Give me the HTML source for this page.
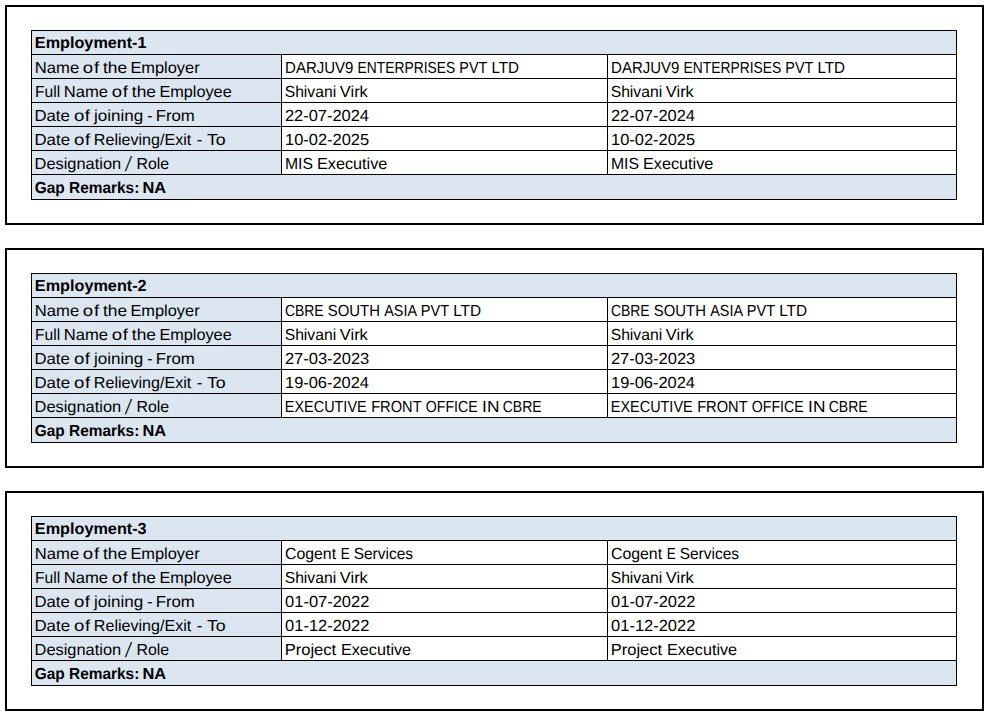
<!DOCTYPE html>
<html><head><meta charset="utf-8"><title>Employment</title>
<style>
html,body{margin:0;padding:0;background:#fff;}
body{width:990px;height:717px;position:relative;overflow:hidden;font-family:"Liberation Sans",sans-serif;color:#000;}
.box{position:absolute;left:5px;width:975px;height:216px;border:2px solid #000;background:#fff;}
.tbl{position:absolute;left:31px;width:924px;height:168px;border:1px solid #000;background:#fff;}
.fill{position:absolute;background:#dce6f1;}
.h{position:absolute;left:31px;width:926px;height:1px;background:#000;}
.v{position:absolute;width:1px;height:121px;background:#000;}
.r{position:absolute;left:0;height:20px;}
.r i{position:absolute;left:0;top:0;font-style:normal;white-space:nowrap;font-size:16px;line-height:20px;height:20px;transform-origin:0 50%;text-rendering:geometricPrecision;}
.b i{font-weight:bold;}
</style></head><body>
<div class="box" style="top:5px"></div>
<div class="tbl" style="top:30px"></div>
<div class="fill" style="left:32px;top:31px;width:924px;height:23px"></div>
<div class="fill" style="left:32px;top:54px;width:249px;height:121px"></div>
<div class="fill" style="left:32px;top:175px;width:924px;height:24px"></div>
<div class="h" style="top:54px"></div>
<div class="h" style="top:78px"></div>
<div class="h" style="top:102px"></div>
<div class="h" style="top:126px"></div>
<div class="h" style="top:150px"></div>
<div class="h" style="top:174px"></div>
<div class="v" style="left:281px;top:54px"></div>
<div class="v" style="left:607px;top:54px"></div>
<div class="r b" style="top:34.31px"><i style="transform:translateX(34.86px) scaleX(1.0127)">Employment-1</i> </div>
<div class="r" style="top:58.86px"><i style="transform:translateX(34.87px) scaleX(1.0388)">Name</i> <i style="transform:translateX(82.78px) scaleX(1.1600);letter-spacing:0.698px">of</i> <i style="transform:translateX(103.03px) scaleX(1.0824)">the</i> <i style="transform:translateX(130.39px) scaleX(1.0247)">Employer</i> </div>
<div class="r" style="top:58.86px"><i style="transform:translateX(285.11px) scaleX(0.9371)">DARJUV9</i> <i style="transform:translateX(357.61px) scaleX(0.8641)">ENTERPRISES</i> <i style="transform:translateX(459.37px) scaleX(0.8953)">PVT</i> <i style="transform:translateX(491.40px) scaleX(0.9488)">LTD</i> </div>
<div class="r" style="top:58.86px"><i style="transform:translateX(611.11px) scaleX(0.9371)">DARJUV9</i> <i style="transform:translateX(683.61px) scaleX(0.8641)">ENTERPRISES</i> <i style="transform:translateX(785.37px) scaleX(0.8953)">PVT</i> <i style="transform:translateX(817.40px) scaleX(0.9488)">LTD</i> </div>
<div class="r" style="top:82.86px"><i style="transform:translateX(34.96px) scaleX(0.9754)">Full</i> <i style="transform:translateX(63.68px) scaleX(1.0363)">Name</i> <i style="transform:translateX(111.68px) scaleX(1.1600);letter-spacing:0.612px">of</i> <i style="transform:translateX(131.83px) scaleX(1.0824)">the</i> <i style="transform:translateX(159.40px) scaleX(1.0159)">Employee</i> </div>
<div class="r" style="top:82.86px"><i style="transform:translateX(284.66px) scaleX(0.9817)">Shivani</i> <i style="transform:translateX(339.87px) scaleX(1.0249)">Virk</i> </div>
<div class="r" style="top:82.86px"><i style="transform:translateX(610.66px) scaleX(0.9817)">Shivani</i> <i style="transform:translateX(665.87px) scaleX(1.0249)">Virk</i> </div>
<div class="r" style="top:106.86px"><i style="transform:translateX(34.46px) scaleX(1.0457)">Date</i> <i style="transform:translateX(74.08px) scaleX(1.1600);letter-spacing:0.353px">of</i> <i style="transform:translateX(93.90px) scaleX(1.0652)">joining</i> <i style="transform:translateX(147.01px) scaleX(1.0581)">-</i> <i style="transform:translateX(155.66px) scaleX(1.0495)">From</i> </div>
<div class="r" style="top:106.86px"><i style="transform:translateX(284.93px) scaleX(1.0270)">22-07-2024</i> </div>
<div class="r" style="top:106.86px"><i style="transform:translateX(610.93px) scaleX(1.0270)">22-07-2024</i> </div>
<div class="r" style="top:130.86px"><i style="transform:translateX(34.45px) scaleX(1.0520)">Date</i> <i style="transform:translateX(74.08px) scaleX(1.1600);letter-spacing:0.440px">of</i> <i style="transform:translateX(93.82px) scaleX(1.0052)">Relieving/Exit</i> <i style="transform:translateX(196.81px) scaleX(1.0581)">-</i> <i style="transform:translateX(206.88px) scaleX(1.1087)">To</i> </div>
<div class="r" style="top:130.86px"><i style="transform:translateX(285.02px) scaleX(1.0266)">10-02-2025</i> </div>
<div class="r" style="top:130.86px"><i style="transform:translateX(611.02px) scaleX(1.0266)">10-02-2025</i> </div>
<div class="r" style="top:154.86px"><i style="transform:translateX(34.59px) scaleX(1.0240)">Designation</i> <i style="transform-origin:0 15.54px;transform:translate(124.30px,2.20px) skewX(-11deg) scaleY(1.3)">/</i> <i style="transform:translateX(136.44px) scaleX(0.9919)">Role</i> </div>
<div class="r" style="top:154.86px"><i style="transform:translateX(284.94px) scaleX(0.9858)">MIS</i> <i style="transform:translateX(317.01px) scaleX(1.0141)">Executive</i> </div>
<div class="r" style="top:154.86px"><i style="transform:translateX(610.94px) scaleX(0.9858)">MIS</i> <i style="transform:translateX(643.01px) scaleX(1.0141)">Executive</i> </div>
<div class="r b" style="top:179.46px"><i style="transform:translateX(34.70px) scaleX(0.9640)">Gap</i> <i style="transform:translateX(69.02px) scaleX(0.9637)">Remarks:</i> <i style="transform:translateX(142.45px) scaleX(1.0233)">NA</i> </div>
<div class="box" style="top:248px"></div>
<div class="tbl" style="top:273px"></div>
<div class="fill" style="left:32px;top:274px;width:924px;height:23px"></div>
<div class="fill" style="left:32px;top:297px;width:249px;height:121px"></div>
<div class="fill" style="left:32px;top:418px;width:924px;height:24px"></div>
<div class="h" style="top:297px"></div>
<div class="h" style="top:321px"></div>
<div class="h" style="top:345px"></div>
<div class="h" style="top:369px"></div>
<div class="h" style="top:393px"></div>
<div class="h" style="top:417px"></div>
<div class="v" style="left:281px;top:297px"></div>
<div class="v" style="left:607px;top:297px"></div>
<div class="r b" style="top:277.31px"><i style="transform:translateX(34.86px) scaleX(1.0138)">Employment-2</i> </div>
<div class="r" style="top:301.86px"><i style="transform:translateX(34.87px) scaleX(1.0388)">Name</i> <i style="transform:translateX(82.78px) scaleX(1.1600);letter-spacing:0.698px">of</i> <i style="transform:translateX(103.03px) scaleX(1.0824)">the</i> <i style="transform:translateX(130.39px) scaleX(1.0247)">Employer</i> </div>
<div class="r" style="top:301.86px"><i style="transform:translateX(284.94px) scaleX(0.8700)">CBRE</i> <i style="transform:translateX(327.80px) scaleX(0.9318)">SOUTH</i> <i style="transform:translateX(384.20px) scaleX(0.8990)">ASIA</i> <i style="transform:translateX(420.85px) scaleX(0.9089)">PVT</i> <i style="transform:translateX(453.18px) scaleX(0.9600)">LTD</i> </div>
<div class="r" style="top:301.86px"><i style="transform:translateX(610.94px) scaleX(0.8700)">CBRE</i> <i style="transform:translateX(653.80px) scaleX(0.9318)">SOUTH</i> <i style="transform:translateX(710.20px) scaleX(0.8990)">ASIA</i> <i style="transform:translateX(746.85px) scaleX(0.9089)">PVT</i> <i style="transform:translateX(779.18px) scaleX(0.9600)">LTD</i> </div>
<div class="r" style="top:325.86px"><i style="transform:translateX(34.96px) scaleX(0.9754)">Full</i> <i style="transform:translateX(63.68px) scaleX(1.0363)">Name</i> <i style="transform:translateX(111.68px) scaleX(1.1600);letter-spacing:0.612px">of</i> <i style="transform:translateX(131.83px) scaleX(1.0824)">the</i> <i style="transform:translateX(159.40px) scaleX(1.0159)">Employee</i> </div>
<div class="r" style="top:325.86px"><i style="transform:translateX(284.66px) scaleX(0.9817)">Shivani</i> <i style="transform:translateX(339.87px) scaleX(1.0249)">Virk</i> </div>
<div class="r" style="top:325.86px"><i style="transform:translateX(610.66px) scaleX(0.9817)">Shivani</i> <i style="transform:translateX(665.87px) scaleX(1.0249)">Virk</i> </div>
<div class="r" style="top:349.86px"><i style="transform:translateX(34.46px) scaleX(1.0457)">Date</i> <i style="transform:translateX(74.08px) scaleX(1.1600);letter-spacing:0.353px">of</i> <i style="transform:translateX(93.90px) scaleX(1.0652)">joining</i> <i style="transform:translateX(147.01px) scaleX(1.0581)">-</i> <i style="transform:translateX(155.66px) scaleX(1.0495)">From</i> </div>
<div class="r" style="top:349.86px"><i style="transform:translateX(284.93px) scaleX(1.0302)">27-03-2023</i> </div>
<div class="r" style="top:349.86px"><i style="transform:translateX(610.93px) scaleX(1.0302)">27-03-2023</i> </div>
<div class="r" style="top:373.86px"><i style="transform:translateX(34.45px) scaleX(1.0520)">Date</i> <i style="transform:translateX(74.08px) scaleX(1.1600);letter-spacing:0.440px">of</i> <i style="transform:translateX(93.82px) scaleX(1.0052)">Relieving/Exit</i> <i style="transform:translateX(196.81px) scaleX(1.0581)">-</i> <i style="transform:translateX(206.88px) scaleX(1.1087)">To</i> </div>
<div class="r" style="top:373.86px"><i style="transform:translateX(285.02px) scaleX(1.0259)">19-06-2024</i> </div>
<div class="r" style="top:373.86px"><i style="transform:translateX(611.02px) scaleX(1.0259)">19-06-2024</i> </div>
<div class="r" style="top:397.86px"><i style="transform:translateX(34.59px) scaleX(1.0240)">Designation</i> <i style="transform-origin:0 15.54px;transform:translate(124.30px,2.20px) skewX(-11deg) scaleY(1.3)">/</i> <i style="transform:translateX(136.44px) scaleX(0.9919)">Role</i> </div>
<div class="r" style="top:397.86px"><i style="transform:translateX(284.86px) scaleX(0.9016)">EXECUTIVE</i> <i style="transform:translateX(371.14px) scaleX(0.9162)">FRONT</i> <i style="transform:translateX(425.74px) scaleX(0.8856)">OFFICE</i> <i style="transform:translateX(482.08px) scaleX(1.0819)">IN</i> <i style="transform:translateX(502.73px) scaleX(0.8746)">CBRE</i> </div>
<div class="r" style="top:397.86px"><i style="transform:translateX(610.86px) scaleX(0.9016)">EXECUTIVE</i> <i style="transform:translateX(697.14px) scaleX(0.9162)">FRONT</i> <i style="transform:translateX(751.74px) scaleX(0.8856)">OFFICE</i> <i style="transform:translateX(808.08px) scaleX(1.0819)">IN</i> <i style="transform:translateX(828.73px) scaleX(0.8746)">CBRE</i> </div>
<div class="r b" style="top:422.46px"><i style="transform:translateX(34.70px) scaleX(0.9640)">Gap</i> <i style="transform:translateX(69.02px) scaleX(0.9637)">Remarks:</i> <i style="transform:translateX(142.45px) scaleX(1.0233)">NA</i> </div>
<div class="box" style="top:491px"></div>
<div class="tbl" style="top:516px"></div>
<div class="fill" style="left:32px;top:517px;width:924px;height:23px"></div>
<div class="fill" style="left:32px;top:540px;width:249px;height:121px"></div>
<div class="fill" style="left:32px;top:661px;width:924px;height:24px"></div>
<div class="h" style="top:540px"></div>
<div class="h" style="top:564px"></div>
<div class="h" style="top:588px"></div>
<div class="h" style="top:612px"></div>
<div class="h" style="top:636px"></div>
<div class="h" style="top:660px"></div>
<div class="v" style="left:281px;top:540px"></div>
<div class="v" style="left:607px;top:540px"></div>
<div class="r b" style="top:520.31px"><i style="transform:translateX(34.86px) scaleX(1.0138)">Employment-3</i> </div>
<div class="r" style="top:544.86px"><i style="transform:translateX(34.87px) scaleX(1.0388)">Name</i> <i style="transform:translateX(82.78px) scaleX(1.1600);letter-spacing:0.698px">of</i> <i style="transform:translateX(103.03px) scaleX(1.0824)">the</i> <i style="transform:translateX(130.39px) scaleX(1.0247)">Employer</i> </div>
<div class="r" style="top:544.86px"><i style="transform:translateX(284.93px) scaleX(0.9916)">Cogent</i> <i style="transform:translateX(340.82px) scaleX(0.8400)">E</i> <i style="transform:translateX(353.67px) scaleX(0.9667)">Services</i> </div>
<div class="r" style="top:544.86px"><i style="transform:translateX(610.93px) scaleX(0.9916)">Cogent</i> <i style="transform:translateX(666.82px) scaleX(0.8400)">E</i> <i style="transform:translateX(679.67px) scaleX(0.9667)">Services</i> </div>
<div class="r" style="top:568.86px"><i style="transform:translateX(34.96px) scaleX(0.9754)">Full</i> <i style="transform:translateX(63.68px) scaleX(1.0363)">Name</i> <i style="transform:translateX(111.68px) scaleX(1.1600);letter-spacing:0.612px">of</i> <i style="transform:translateX(131.83px) scaleX(1.0824)">the</i> <i style="transform:translateX(159.40px) scaleX(1.0159)">Employee</i> </div>
<div class="r" style="top:568.86px"><i style="transform:translateX(284.66px) scaleX(0.9817)">Shivani</i> <i style="transform:translateX(339.87px) scaleX(1.0249)">Virk</i> </div>
<div class="r" style="top:568.86px"><i style="transform:translateX(610.66px) scaleX(0.9817)">Shivani</i> <i style="transform:translateX(665.87px) scaleX(1.0249)">Virk</i> </div>
<div class="r" style="top:592.86px"><i style="transform:translateX(34.46px) scaleX(1.0457)">Date</i> <i style="transform:translateX(74.08px) scaleX(1.1600);letter-spacing:0.353px">of</i> <i style="transform:translateX(93.90px) scaleX(1.0652)">joining</i> <i style="transform:translateX(147.01px) scaleX(1.0581)">-</i> <i style="transform:translateX(155.66px) scaleX(1.0495)">From</i> </div>
<div class="r" style="top:592.86px"><i style="transform:translateX(285.06px) scaleX(1.0302)">01-07-2022</i> </div>
<div class="r" style="top:592.86px"><i style="transform:translateX(611.06px) scaleX(1.0302)">01-07-2022</i> </div>
<div class="r" style="top:616.86px"><i style="transform:translateX(34.45px) scaleX(1.0520)">Date</i> <i style="transform:translateX(74.08px) scaleX(1.1600);letter-spacing:0.440px">of</i> <i style="transform:translateX(93.82px) scaleX(1.0052)">Relieving/Exit</i> <i style="transform:translateX(196.81px) scaleX(1.0581)">-</i> <i style="transform:translateX(206.88px) scaleX(1.1087)">To</i> </div>
<div class="r" style="top:616.86px"><i style="transform:translateX(285.06px) scaleX(1.0302)">01-12-2022</i> </div>
<div class="r" style="top:616.86px"><i style="transform:translateX(611.06px) scaleX(1.0302)">01-12-2022</i> </div>
<div class="r" style="top:640.86px"><i style="transform:translateX(34.59px) scaleX(1.0240)">Designation</i> <i style="transform-origin:0 15.54px;transform:translate(124.30px,2.20px) skewX(-11deg) scaleY(1.3)">/</i> <i style="transform:translateX(136.44px) scaleX(0.9919)">Role</i> </div>
<div class="r" style="top:640.86px"><i style="transform:translateX(284.68px) scaleX(1.0342)">Project</i> <i style="transform:translateX(341.01px) scaleX(1.0097)">Executive</i> </div>
<div class="r" style="top:640.86px"><i style="transform:translateX(610.68px) scaleX(1.0342)">Project</i> <i style="transform:translateX(667.01px) scaleX(1.0097)">Executive</i> </div>
<div class="r b" style="top:665.46px"><i style="transform:translateX(34.70px) scaleX(0.9640)">Gap</i> <i style="transform:translateX(69.02px) scaleX(0.9637)">Remarks:</i> <i style="transform:translateX(142.45px) scaleX(1.0233)">NA</i> </div>
</body></html>
